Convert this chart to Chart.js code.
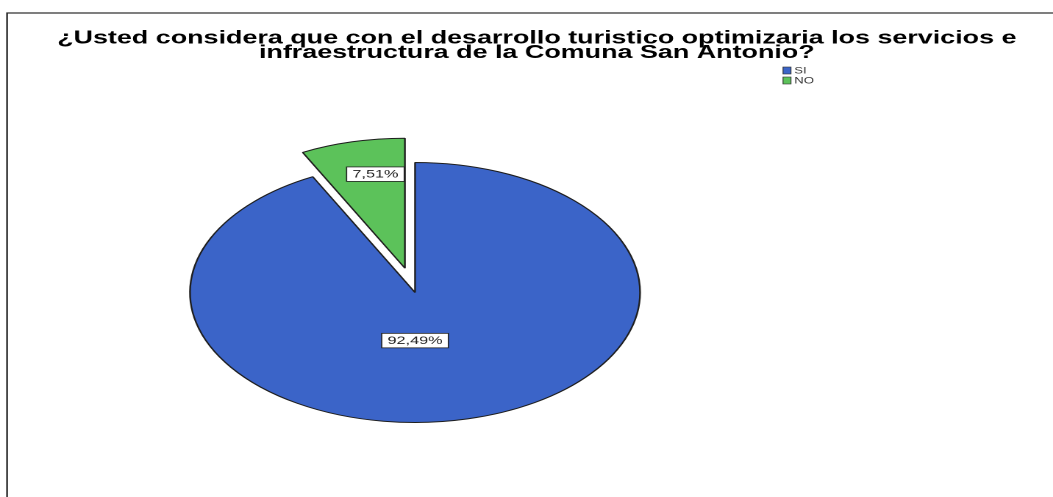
<!DOCTYPE html>
<html>
<head>
<meta charset="utf-8">
<script src="https://cdn.jsdelivr.net/npm/chart.js@4/dist/chart.umd.min.js"></script>
<style>
  html, body { margin: 0; padding: 0; background: #fff; overflow: hidden; }
  #wrap { width: 1053px; height: 497px; overflow: hidden; }
  /* the reference is a horizontally stretched scan, so the canvas is drawn narrow and stretched */
  #chart { transform: scaleX(1.4707); transform-origin: 0 0; }
</style>
</head>
<body>
<div id="wrap"><canvas id="chart" width="716" height="497"></canvas></div>
<script>
const titleLines = [
  "¿Usted considera que con el desarrollo turistico optimizaria los servicios e",
  "infraestructura de la Comuna San Antonio?"
];
const categories = ["SI", "NO"];
const percentages = [92.49, 7.51];
const sliceColors = ["#3b64c8", "#5cc25a"];
const explode = [0, 25]; // px the slice is pulled out

// layout (narrow canvas coords)
const PIE_CENTER = { x: 282.2, y: 292.5 };
const PIE_RADIUS = 130;
const PIE_STRETCH_X = 1.177;

function fmt(v) {
  return v.toFixed(2).replace(".", ",") + "%";
}

const framePlugin = {
  id: "frame",
  beforeDraw(chart) {
    const ctx = chart.ctx;
    ctx.save();
    ctx.fillStyle = "#fff";
    ctx.fillRect(0, 0, chart.width, chart.height);
    ctx.strokeStyle = "#2a2a2a";
    ctx.lineWidth = 1.2;
    ctx.strokeRect(4.8, 13, 2000, 2000);
    ctx.restore();
  }
};

// draws the pie as a flattened ellipse with the small slice pulled out
const ellipsePlugin = {
  id: "ellipse",
  beforeDatasetsDraw(chart) {
    const ctx = chart.ctx;
    const arcs = chart.getDatasetMeta(0).data;
    const c = arcs[0];

    ctx.save();
    ctx.translate(PIE_CENTER.x, PIE_CENTER.y);
    ctx.scale(PIE_STRETCH_X, 1);
    ctx.translate(-c.x, -c.y);
    arcs.forEach((arc, i) => {
      const mid = (arc.startAngle + arc.endAngle) / 2;
      ctx.save();
      ctx.translate(Math.cos(mid) * explode[i], Math.sin(mid) * explode[i]);
      arc.draw(ctx);
      ctx.restore();
    });
    ctx.restore();

    // percentage labels in white boxes
    ctx.save();
    ctx.font = "11px 'Liberation Sans', Arial, sans-serif";
    ctx.textAlign = "center";
    ctx.textBaseline = "middle";
    arcs.forEach((arc, i) => {
      const small = percentages[i] < 25;
      const mid = (arc.startAngle + arc.endAngle) / 2;
      const ang = small ? arc.startAngle + 0.62 * (arc.endAngle - arc.startAngle) : Math.PI / 2;
      const r = arc.outerRadius * (small ? 0.735 : 0.37);
      const px = Math.cos(mid) * explode[i] + Math.cos(ang) * r;
      const py = Math.sin(mid) * explode[i] + Math.sin(ang) * r;
      const x = PIE_CENTER.x + px * PIE_STRETCH_X;
      const y = PIE_CENTER.y + py;
      const text = fmt(percentages[i]);
      const w = ctx.measureText(text).width + 8;
      const h = 14.5;
      ctx.fillStyle = "#fff";
      ctx.fillRect(x - w / 2, y - h / 2, w, h);
      ctx.strokeStyle = "#222";
      ctx.lineWidth = 0.8;
      ctx.strokeRect(x - w / 2, y - h / 2, w, h);
      ctx.fillStyle = "#222";
      ctx.fillText(text, x, y + 0.5);
    });
    ctx.restore();
    return false;
  }
};

const legendPlugin = {
  id: "miniLegend",
  afterDraw(chart) {
    const ctx = chart.ctx;
    ctx.save();
    ctx.font = "9px 'Liberation Sans', Arial, sans-serif";
    ctx.textBaseline = "middle";
    categories.forEach((c, i) => {
      const y = 67 + i * 10;
      ctx.fillStyle = sliceColors[i];
      ctx.fillRect(532.4, y, 5.4, 7);
      ctx.strokeStyle = "#333";
      ctx.lineWidth = 0.6;
      ctx.strokeRect(532.4, y, 5.4, 7);
      ctx.fillStyle = "#333";
      ctx.fillText(c, 540, y + 4);
    });
    ctx.restore();
  }
};

new Chart(document.getElementById("chart"), {
  type: "pie",
  data: {
    labels: categories,
    datasets: [
      {
        data: percentages,
        backgroundColor: sliceColors,
        borderColor: "#1e1e1e",
        borderWidth: 1,
        hoverBorderWidth: 1,
        offset: 0,
        hoverOffset: 0,
        radius: PIE_RADIUS
      }
    ]
  },
  options: {
    responsive: false,
    animation: false,
    devicePixelRatio: 2,
    events: [],
    layout: { padding: { top: 21, left: 14, right: 0, bottom: 20 } },
    plugins: {
      legend: { display: false },
      tooltip: { enabled: false },
      title: {
        display: true,
        text: titleLines,
        color: "#000",
        font: { family: "'Liberation Sans', Arial, sans-serif", size: 18.3, weight: "bold", lineHeight: 0.8 },
        padding: { top: 10, bottom: 20 }
      }
    }
  },
  plugins: [framePlugin, ellipsePlugin, legendPlugin]
});
</script>
</body>
</html>
